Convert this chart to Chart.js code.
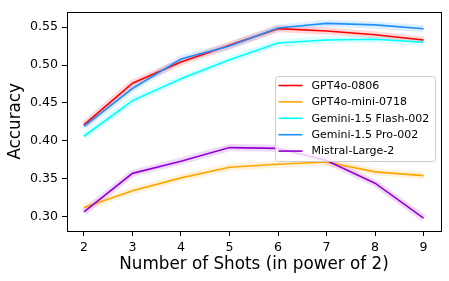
<!DOCTYPE html>
<html>
<head>
<meta charset="utf-8">
<script src="https://cdn.jsdelivr.net/npm/chart.js@4.4.0/dist/chart.umd.min.js"></script>
<style>
  html, body { margin: 0; padding: 0; background: #fff; }
  #wrap { width: 449px; height: 281px; }
</style>
</head>
<body>
<div id="wrap"><canvas id="chartCanvas" width="449" height="281"></canvas></div>
<script>
// x = number of shots, power of 2
const shots = [2, 3, 4, 5, 6, 7, 8, 9];
const yTicks = [0.30, 0.35, 0.40, 0.45, 0.50, 0.55];

const modelNames = ['GPT4o-0806', 'GPT4o-mini-0718', 'Gemini-1.5 Flash-002', 'Gemini-1.5 Pro-002', 'Mistral-Large-2'];
const gpt4o = [0.421, 0.476, 0.504, 0.526, 0.548, 0.545, 0.540, 0.533];
const gpt4oMini = [0.312, 0.334, 0.351, 0.365, 0.369, 0.372, 0.359, 0.354];
const geminiFlash = [0.406, 0.453, 0.482, 0.507, 0.529, 0.533, 0.534, 0.530];
const geminiPro = [0.419, 0.469, 0.508, 0.525, 0.549, 0.555, 0.553, 0.548];
const mistral = [0.306, 0.357, 0.373, 0.391, 0.390, 0.374, 0.344, 0.298];

const seriesData = [gpt4o, gpt4oMini, geminiFlash, geminiPro, mistral];
const lineColors = ['#ff0000', '#ffa500', '#00ffff', '#1e90ff', '#9400d3'];
const bandColors = ['rgba(255,0,0,0.15)', 'rgba(255,165,0,0.15)', 'rgba(0,255,255,0.15)', 'rgba(30,144,255,0.15)', 'rgba(148,0,211,0.15)'];

const FONT = 'DejaVu Sans';

const datasets = [];
seriesData.forEach((vals, i) => {
    // soft band behind each line
    datasets.push({
        label: modelNames[i] + ' band',
        data: vals.map((v, k) => ({ x: shots[k], y: v })),
        borderColor: bandColors[i],
        borderWidth: 7,
        pointRadius: 0,
        fill: false,
        tension: 0,
        order: 20
    });
});
seriesData.forEach((vals, i) => {
    datasets.push({
        label: modelNames[i],
        data: vals.map((v, k) => ({ x: shots[k], y: v })),
        borderColor: lineColors[i],
        borderWidth: 1.6,
        pointRadius: 0,
        fill: false,
        tension: 0,
        order: 10 - i
    });
});

// box around plot + legend in upper right
const framePlugin = {
    id: 'frame',
    afterDraw(chart) {
        const ctx = chart.ctx;
        const a = chart.chartArea;
        ctx.save();
        ctx.strokeStyle = '#000';
        ctx.lineWidth = 1;
        ctx.strokeRect(Math.round(a.left) + 0.5, Math.round(a.top) + 0.5,
            Math.round(a.right - a.left), Math.round(a.bottom - a.top));

        // legend
        const lx = 275.5, ly = 76.5, lw = 160, lh = 85, r = 3;
        ctx.fillStyle = 'rgba(255,255,255,0.8)';
        ctx.strokeStyle = '#cccccc';
        ctx.beginPath();
        ctx.moveTo(lx + r, ly);
        ctx.lineTo(lx + lw - r, ly);
        ctx.quadraticCurveTo(lx + lw, ly, lx + lw, ly + r);
        ctx.lineTo(lx + lw, ly + lh - r);
        ctx.quadraticCurveTo(lx + lw, ly + lh, lx + lw - r, ly + lh);
        ctx.lineTo(lx + r, ly + lh);
        ctx.quadraticCurveTo(lx, ly + lh, lx, ly + lh - r);
        ctx.lineTo(lx, ly + r);
        ctx.quadraticCurveTo(lx, ly, lx + r, ly);
        ctx.closePath();
        ctx.fill();
        ctx.stroke();

        ctx.font = '11px "' + FONT + '"';
        ctx.textBaseline = 'middle';
        ctx.textAlign = 'left';
        modelNames.forEach((name, i) => {
            const y = 85.5 + i * 16.4;
            ctx.strokeStyle = lineColors[i];
            ctx.lineWidth = 1.6;
            ctx.beginPath();
            ctx.moveTo(278.5, y);
            ctx.lineTo(302.5, y);
            ctx.stroke();
            ctx.fillStyle = '#000';
            ctx.fillText(name, 311.5, y + 0.5);
        });
        ctx.restore();
    }
};

const ctx = document.getElementById('chartCanvas').getContext('2d');
const chart = new Chart(ctx, {
    type: 'line',
    data: { datasets: datasets },
    options: {
        responsive: false,
        animation: false,
        devicePixelRatio: 1,
        layout: { padding: { left: 0, right: 8, top: 8, bottom: 0 } },
        plugins: {
            legend: { display: false },
            tooltip: { enabled: false }
        },
        scales: {
            x: {
                type: 'linear',
                min: 1.65,
                max: 9.36,
                afterBuildTicks: (axis) => { axis.ticks = shots.map(v => ({ value: v })); },
                afterFit: (axis) => { axis.height = 50; },
                ticks: {
                    color: '#000',
                    font: { family: FONT, size: 12.6 },
                    padding: 4,
                    maxRotation: 0,
                    callback: (v) => String(v)
                },
                grid: { display: true, drawOnChartArea: false, drawTicks: true, tickLength: 5, color: '#000' },
                border: { display: false },
                title: {
                    display: true,
                    text: 'Number of Shots (in power of 2)',
                    color: '#000',
                    font: { family: FONT, size: 16.8 },
                    padding: { top: 2, bottom: 6 }
                }
            },
            y: {
                type: 'linear',
                min: 0.2809,
                max: 0.5706,
                afterBuildTicks: (axis) => { axis.ticks = yTicks.map(v => ({ value: v })); },
                afterFit: (axis) => { axis.width = 67; },
                ticks: {
                    color: '#000',
                    font: { family: FONT, size: 12.6 },
                    padding: 4,
                    callback: (v) => v.toFixed(2)
                },
                grid: { display: true, drawOnChartArea: false, drawTicks: true, tickLength: 5, color: '#000' },
                border: { display: false },
                title: {
                    display: true,
                    text: 'Accuracy',
                    color: '#000',
                    font: { family: FONT, size: 16.8 },
                    padding: { top: 6, bottom: 0 }
                }
            }
        }
    },
    plugins: [framePlugin]
});
</script>
</body>
</html>
